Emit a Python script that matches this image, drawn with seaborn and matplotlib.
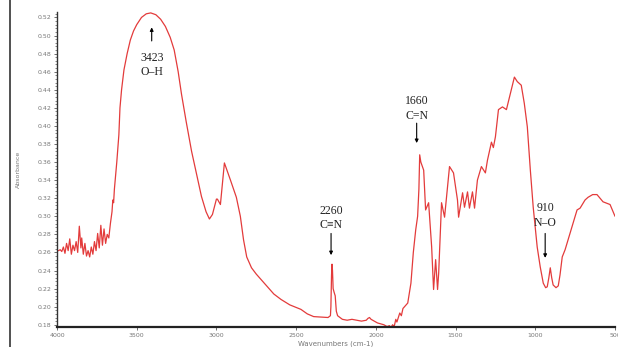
import numpy as np
import pandas as pd
import matplotlib
matplotlib.use("Agg")
import matplotlib.pyplot as plt
from matplotlib.lines import Line2D
import seaborn as sns

# IR spectrum: wavenumber (cm-1) and absorbance
wavenumber = [
    4000, 3990, 3980, 3970, 3960, 3950, 3940, 3930, 3920, 3910, 3900, 3890, 3880, 3870,
    3860, 3850, 3845, 3835, 3825, 3815, 3805, 3795, 3785, 3775, 3765, 3755, 3745, 3735,
    3725, 3715, 3705, 3695, 3685, 3675, 3665, 3655, 3650, 3645, 3640, 3625, 3612, 3605,
    3595, 3580, 3560, 3540, 3520, 3500, 3470, 3440, 3412, 3380, 3350, 3320, 3290, 3265,
    3240, 3219, 3190, 3156, 3120, 3094, 3065, 3044, 3025,
    3000, 2994, 2975, 2950, 2912, 2875, 2850, 2830, 2810, 2780, 2750, 2720, 2680, 2640,
    2595, 2540, 2470, 2430, 2390, 2300,
    2285, 2282, 2278, 2275, 2272, 2268, 2262, 2255, 2248, 2240, 2210, 2180, 2150, 2120,
    2090, 2060, 2050, 2040, 2030, 2010, 1990, 1970, 1950, 1930, 1915, 1905, 1895, 1885,
    1875, 1868, 1850, 1840, 1830, 1800, 1780, 1765, 1750, 1738, 1730, 1725, 1718, 1700,
    1688, 1669, 1650, 1638, 1625, 1613, 1606, 1588, 1569, 1538, 1513, 1488, 1481, 1456,
    1444, 1425, 1413, 1394, 1381, 1363, 1338, 1313, 1300, 1275, 1263, 1250, 1231, 1206,
    1181, 1156, 1131, 1113, 1088, 1069, 1050, 1031, 1013, 988, 969, 950, 935, 925,
    915, 906, 897, 888, 870, 856, 845, 831, 813, 781, 750, 738, 719, 688,
    669, 640, 613, 575, 531, 500,
]
absorbance = [
    0.262, 0.262, 0.263, 0.261, 0.266, 0.259, 0.270, 0.262, 0.275, 0.258, 0.268, 0.262, 0.272, 0.260,
    0.289, 0.265, 0.276, 0.258, 0.270, 0.256, 0.262, 0.255, 0.266, 0.258, 0.272, 0.262, 0.281, 0.265,
    0.290, 0.268, 0.286, 0.270, 0.280, 0.276, 0.292, 0.305, 0.318, 0.315, 0.330, 0.360, 0.390, 0.420,
    0.440, 0.462, 0.480, 0.495, 0.505, 0.512, 0.520, 0.524, 0.525, 0.523, 0.518, 0.510, 0.498, 0.484,
    0.460, 0.435, 0.405, 0.372, 0.343, 0.322, 0.305, 0.297, 0.302,
    0.319, 0.319, 0.313, 0.359, 0.340, 0.321, 0.300, 0.274, 0.255, 0.243, 0.236, 0.230, 0.222, 0.214,
    0.208, 0.202, 0.197, 0.192, 0.189, 0.188,
    0.190, 0.200, 0.235, 0.247, 0.240, 0.220, 0.216, 0.212, 0.195, 0.190, 0.186, 0.185, 0.186, 0.185,
    0.184, 0.185, 0.187, 0.188, 0.186, 0.184, 0.182, 0.181, 0.180, 0.178, 0.179, 0.177, 0.180, 0.178,
    0.186, 0.183, 0.193, 0.190, 0.198, 0.204, 0.226, 0.260, 0.285, 0.300, 0.330, 0.368, 0.360, 0.351,
    0.307, 0.315, 0.266, 0.219, 0.252, 0.219, 0.237, 0.315, 0.299, 0.355, 0.348, 0.318, 0.299, 0.326,
    0.310, 0.327, 0.309, 0.327, 0.309, 0.340, 0.355, 0.348, 0.362, 0.382, 0.376, 0.388, 0.418, 0.421,
    0.418, 0.436, 0.454, 0.449, 0.445, 0.425, 0.399, 0.351, 0.310, 0.266, 0.244, 0.226, 0.221, 0.222,
    0.232, 0.243, 0.232, 0.224, 0.221, 0.223, 0.235, 0.255, 0.263, 0.282, 0.300, 0.307, 0.309, 0.318,
    0.321, 0.324, 0.324, 0.316, 0.313, 0.300,
]

# peak labels: position, number, bond
peak_x = [3406, 2281, 1744, 938]
peak_num = ["3423", "2260", "1660", "910"]
peak_bond = ["O\u2013H", "C\u2261N", "C=N", "N\u2013O"]

df = pd.DataFrame({"wavenumber": wavenumber, "absorbance": absorbance})

sns.set_theme(style="ticks")
plt.rcParams["font.family"] = ["DejaVu Sans"]

fig = plt.figure(figsize=(6.18, 3.47), dpi=100)
ax = fig.add_axes([57 / 618, 1 - 327 / 347, (615 - 57) / 618, (327 - 12) / 347])

sns.lineplot(data=df, x="wavenumber", y="absorbance", estimator=None, sort=False,
             color="#e33b3b", linewidth=0.9, ax=ax)

ax.set_xlim(4000, 500)
ax.set_ylim(0.1775, 0.526)
ax.set_xticks([4000, 3500, 3000, 2500, 2000, 1500, 1000, 500])
ax.set_yticks(np.round(np.arange(0.18, 0.521, 0.02), 2))
ax.set_yticklabels([f"{v:.2f}" for v in np.arange(0.18, 0.521, 0.02)])
ax.yaxis.set_minor_locator(matplotlib.ticker.MultipleLocator(0.004))
ax.tick_params(axis="both", labelsize=4.5, labelcolor="#777777", color="#555555",
               length=2.5, width=0.6, pad=1.5)
ax.tick_params(axis="y", which="minor", length=1.5, width=0.5, color="#555555")
ax.set_xlabel("Wavenumbers (cm-1)", fontsize=5, color="#777777", labelpad=2)
ax.set_ylabel("Absorbance", fontsize=4.5, color="#777777", labelpad=12)
sns.despine(ax=ax)
ax.spines["left"].set_linewidth(1.0)
ax.spines["left"].set_color("#333333")
ax.spines["bottom"].set_linewidth(1.6)
ax.spines["bottom"].set_color("#222222")

serif = dict(family=["Liberation Serif", "DejaVu Serif"], fontsize=8.5, color="#222222",
             ha="center", va="center")
arrow = dict(arrowstyle="-|>", color="black", lw=0.8, mutation_scale=5, shrinkA=0, shrinkB=0)

# O-H: arrow points up, text below
ax.annotate("", xy=(peak_x[0], 0.509), xytext=(peak_x[0], 0.494), arrowprops=arrow)
ax.text(peak_x[0], 0.475, peak_num[0], **serif)
ax.text(peak_x[0], 0.460, peak_bond[0], **serif)

# the others: text above, arrow pointing down
text_y = [None, 0.306, 0.427, 0.309]
arrow_top = [None, 0.281, 0.403, 0.281]
arrow_tip = [None, 0.257, 0.381, 0.254]
for i in range(1, 4):
    ax.text(peak_x[i], text_y[i], peak_num[i], **serif)
    ax.text(peak_x[i], text_y[i] - 0.016, peak_bond[i], **serif)
    ax.annotate("", xy=(peak_x[i], arrow_tip[i]), xytext=(peak_x[i], arrow_top[i]),
                arrowprops=arrow)

# dark border line on the far left of the scan
fig.add_artist(Line2D([10 / 618, 10 / 618], [0, 1], transform=fig.transFigure,
                      color="#333333", lw=1.2))

fig.savefig("out.png", dpi=100)
